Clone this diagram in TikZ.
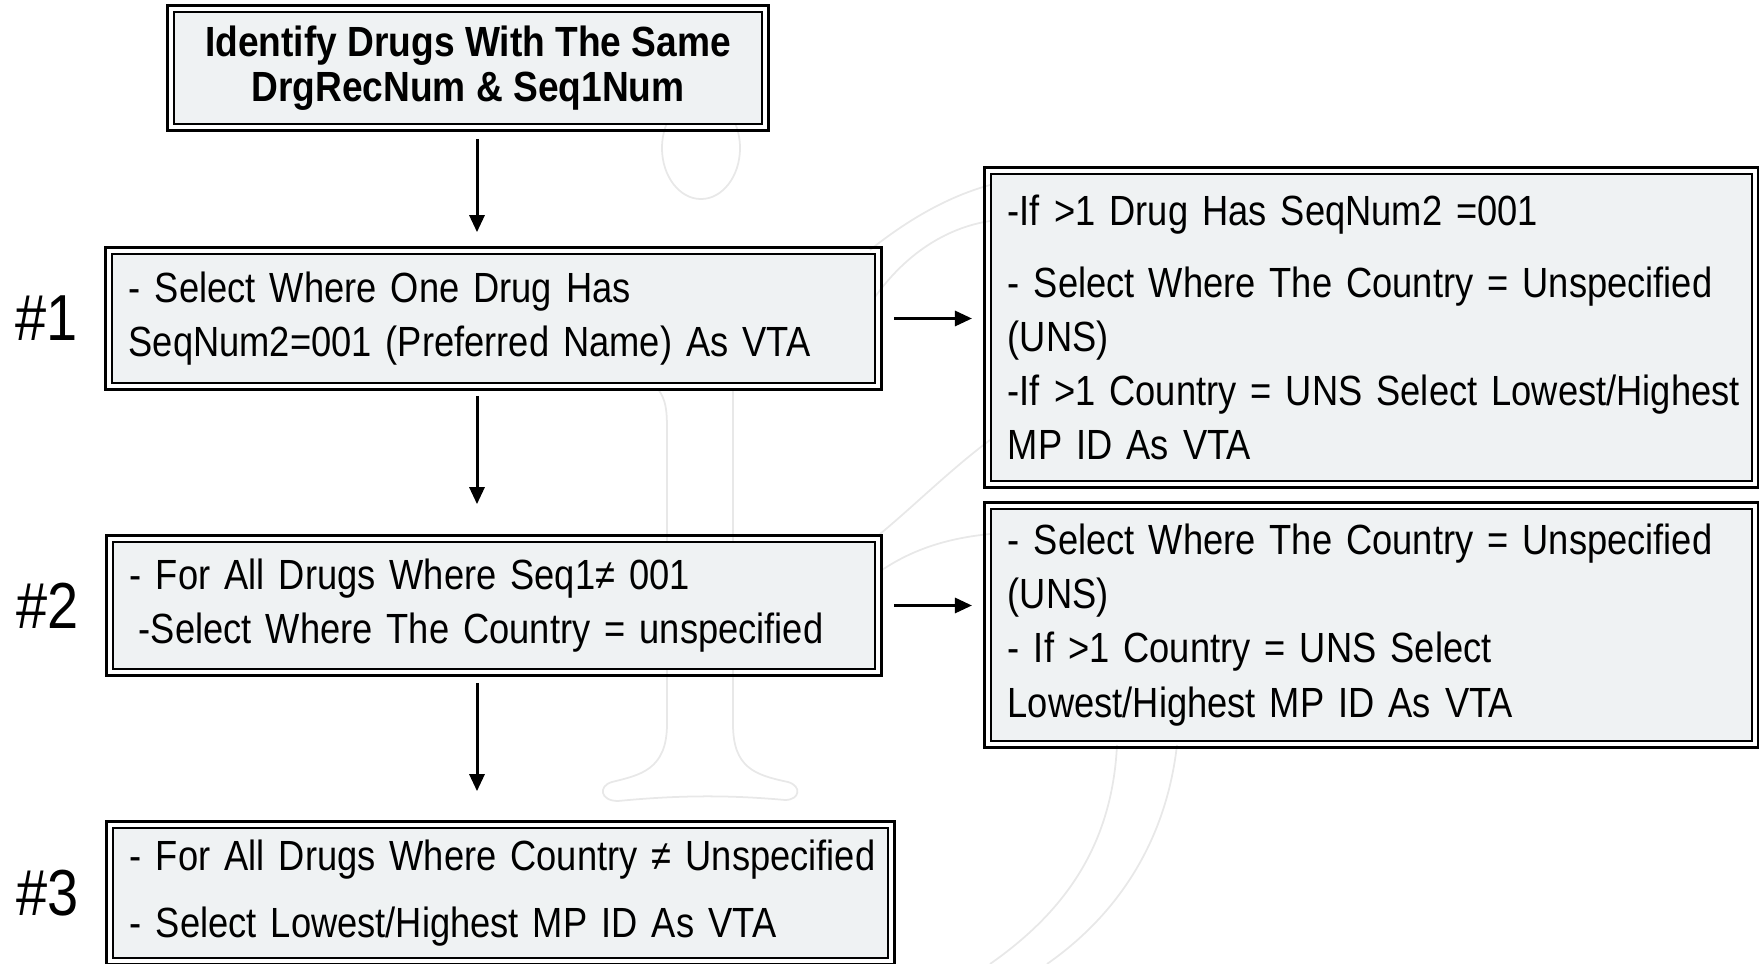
\documentclass[tikz,border=0pt]{standalone}
\usepackage{fontspec}
\setmainfont{Liberation Sans}[FakeStretch=0.86, BoldFeatures={FakeStretch=0.88}]
\usetikzlibrary{positioning}
\usetikzlibrary{arrows.meta, calc}
\definecolor{boxfill}{HTML}{EFF2F3}
\hyphenpenalty=10000
\protected\def\stepfont{\fontsize{12}{15.4}\selectfont\spaceskip=0.17em\relax}

\tikzset{
  stepbox/.style={draw, line width=0.45pt, fill=boxfill, inner xsep=0.17cm, inner ysep=0pt,
    align=left, font=\stepfont},
  flow/.style={-{Triangle[length=0.17cm,width=0.15cm]}, line width=0.03cm},
  num/.style={inner sep=0pt, font=\fontsize{18.5}{20}\selectfont},
  wm/.style={draw=black!9, line width=0.5pt}
}

\begin{document}
\begin{tikzpicture}[x=0.01cm, y=-0.01cm]
\useasboundingbox (0,0) rectangle (1759,964);

% faint logo behind the boxes
\draw[wm] (701,148) ellipse [x radius=0.39cm, y radius=0.51cm];
\draw[wm] (658,389) .. controls (666,400) and (667,410) .. (667,430) -- (667,724)
  .. controls (667,770) and (640,775) .. (612,782) .. controls (598,786) and (600,801) .. (618,801)
  .. controls (680,795) and (730,795) .. (785,800) .. controls (800,800) and (802,786) .. (788,782)
  .. controls (755,775) and (733,768) .. (733,724) -- (733,389);
\draw[wm] (870,250) .. controls (910,218) and (950,196) .. (990,185);
\draw[wm] (875,297) .. controls (905,255) and (945,228) .. (990,221);
\draw[wm] (880,534) .. controls (915,505) and (950,470) .. (990,440);
\draw[wm] (882,570) .. controls (915,548) and (950,538) .. (990,534);
\draw[wm] (1117,745) .. controls (1112,850) and (1060,915) .. (990,964);
\draw[wm] (1177,745) .. controls (1165,850) and (1110,920) .. (1047,964);

% boxes
\node[stepbox, align=center, font=\bfseries\fontsize{12}{12.8}\selectfont,
  minimum width=5.88cm, minimum height=1.12cm] (top) at (468,68)
  {Identify Drugs With The Same\\DrgRecNum \& Seq1Num};
\node[stepbox, text width=7.29cm, minimum height=1.29cm] (s1) at (493.5,318.5)
  {- Select Where One Drug Has\\SeqNum2=001 (Preferred Name) As VTA};
\node[stepbox, text width=7.28cm, minimum height=1.27cm] (s2) at (494,605.5)
  {- For All Drugs Where Seq1≠ 001\\\hspace*{0.09cm}-Select Where The Country = unspecified};
\node[stepbox, text width=7.41cm, minimum height=1.30cm] (s3) at (500.5,893)
  {\mbox{- For All Drugs Where Country ≠ Unspecified}\\[0.13cm]- Select Lowest/Highest MP ID As VTA};
\node[stepbox, text width=7.27cm, minimum height=3.07cm] (rA) at (1371.5,327.5)
  {-If >1 Drug Has SeqNum2 =001\\[0.18cm]- Select Where The Country = Unspecified\\(UNS)\\
   \mbox{-If >1 Country = UNS Select Lowest/Highest}\\MP ID As VTA};
\node[stepbox, text width=7.27cm, minimum height=2.32cm] (rB) at (1371.5,625)
  {- Select Where The Country = Unspecified\\(UNS)\\- If >1 Country = UNS Select\\
   Lowest/Highest MP ID As VTA};

% outer frame of each box
\foreach \b in {top,s1,s2,s3,rA,rB}
  \draw[line width=0.03cm] ([shift={(-0.055cm,0.055cm)}]\b.north west)
    rectangle ([shift={(0.055cm,-0.055cm)}]\b.south east);

% step numbers
\node[num, left=0.33cm of s1] (n1) {\#1};
\node[num, left=0.33cm of s2] (n2) {\#2};
\node[num, left=0.33cm of s3] (n3) {\#3};

% arrows
\coordinate (ax) at (477,0);
\draw[flow, shorten <=0.14cm, shorten >=0.21cm] (top.south -| ax) -- (s1.north -| ax);
\draw[flow, shorten <=0.12cm, shorten >=0.37cm] (s1.south -| ax) -- (s2.north -| ax);
\draw[flow, shorten <=0.13cm, shorten >=0.36cm] (s2.south -| ax) -- (s3.north -| ax);
\draw[flow, shorten <=0.18cm, shorten >=0.18cm] (s1.east) -- (s1.east -| rA.west);
\draw[flow, shorten <=0.18cm, shorten >=0.18cm] (s2.east) -- (s2.east -| rB.west);

\end{tikzpicture}
\end{document}
